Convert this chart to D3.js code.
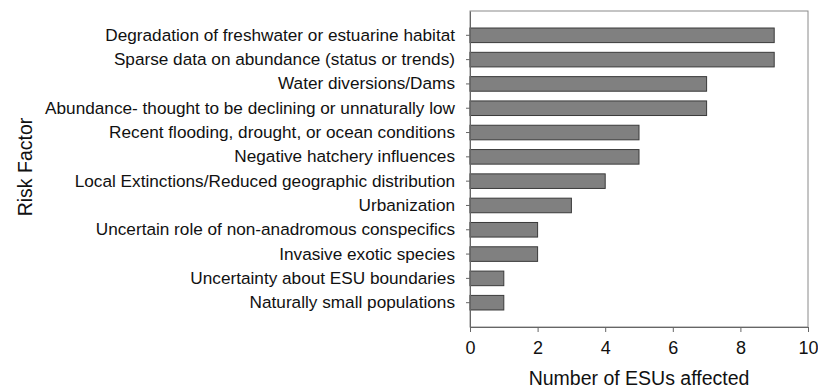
<!DOCTYPE html>
<html>
<head>
<meta charset="utf-8">
<script src="https://cdn.jsdelivr.net/npm/d3@7"></script>
<style>
  body { margin: 0; background: #fff; }
  svg { display: block; font-family: "Liberation Sans", Arial, sans-serif; }
</style>
</head>
<body>
<svg id="chart"></svg>
<script>
const categories = [
  "Degradation of freshwater or estuarine habitat",
  "Sparse data on abundance (status or trends)",
  "Water diversions/Dams",
  "Abundance- thought to be declining or unnaturally low",
  "Recent flooding, drought, or ocean conditions",
  "Negative hatchery influences",
  "Local Extinctions/Reduced geographic distribution",
  "Urbanization",
  "Uncertain role of non-anadromous conspecifics",
  "Invasive exotic species",
  "Uncertainty about ESU boundaries",
  "Naturally small populations"
];
const values = [9, 9, 7, 7, 5, 5, 4, 3, 2, 2, 1, 1];
const xTicks = [0, 2, 4, 6, 8, 10];

(function () {
  const width = 818;
  const height = 391;
  const margin = { top: 11, right: 10, bottom: 64, left: 470 };

  const svg = d3.select("#chart")
    .attr("width", width)
    .attr("height", height);

  const x = d3.scaleLinear()
    .domain([0, 10])
    .range([margin.left, width - margin.right]);

  const y = d3.scaleBand()
    .domain(categories)
    .range([margin.top, height - margin.bottom])
    .paddingInner(0)
    .paddingOuter(0.5);

  // plot frame
  svg.append("rect")
    .attr("x", x(0))
    .attr("y", margin.top)
    .attr("width", x(10) - x(0))
    .attr("height", height - margin.bottom - margin.top)
    .attr("fill", "none")
    .attr("stroke", "#8a8a8a")
    .attr("stroke-width", 1);

  // bars
  const barH = y.bandwidth() * 0.6;
  svg.selectAll("rect.bar")
    .data(categories)
    .join("rect")
    .attr("class", "bar")
    .attr("x", x(0))
    .attr("y", d => y(d) + (y.bandwidth() - barH) / 2)
    .attr("width", (d, i) => x(values[i]) - x(0))
    .attr("height", barH)
    .attr("fill", "#808080")
    .attr("stroke", "#3a3a3a")
    .attr("stroke-width", 1);

  // x axis
  const xAxis = svg.append("g")
    .attr("transform", `translate(0,${height - margin.bottom})`)
    .call(d3.axisBottom(x).tickValues(xTicks).tickSize(5).tickPadding(9).tickSizeOuter(0));
  xAxis.select(".domain").attr("stroke", "#666");
  xAxis.selectAll(".tick line").attr("stroke", "#666");
  xAxis.selectAll(".tick text")
    .attr("font-size", 18)
    .attr("fill", "#111")
    .attr("font-family", "Liberation Sans, Arial, sans-serif");

  // y axis
  const yAxis = svg.append("g")
    .attr("transform", `translate(${margin.left},0)`)
    .call(d3.axisLeft(y).tickSize(4).tickPadding(11).tickSizeOuter(0));
  yAxis.select(".domain").attr("stroke", "#666");
  yAxis.selectAll(".tick line").attr("stroke", "#666");
  yAxis.selectAll(".tick text")
    .attr("font-size", 17.2)
    .attr("fill", "#111")
    .attr("font-family", "Liberation Sans, Arial, sans-serif");

  // axis titles
  svg.append("text")
    .attr("x", (x(0) + x(10)) / 2)
    .attr("y", 385)
    .attr("text-anchor", "middle")
    .attr("font-size", 19.5)
    .attr("fill", "#111")
    .text("Number of ESUs affected");

  svg.append("text")
    .attr("transform", "translate(32,167) rotate(-90)")
    .attr("text-anchor", "middle")
    .attr("font-size", 19.5)
    .attr("fill", "#111")
    .text("Risk Factor");
})();
</script>
</body>
</html>
